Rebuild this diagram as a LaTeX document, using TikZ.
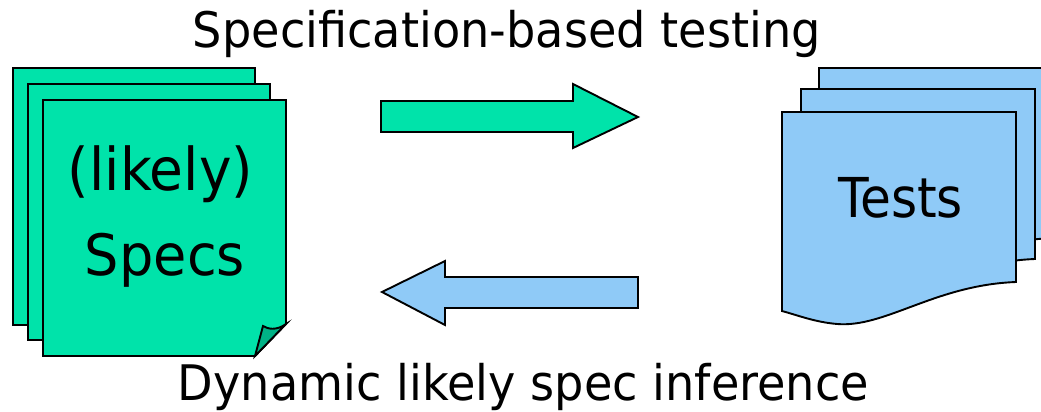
\documentclass[tikz,border=0pt]{standalone}
\usepackage{fontspec}
\usepackage{graphicx}
\setmainfont{DejaVu Sans}
\definecolor{specgreen}{RGB}{0,227,170}
\definecolor{foldgreen}{RGB}{0,178,134}
\definecolor{testblue}{RGB}{143,202,247}
% set a text at a given font size, stretched to a given width
\newcommand\fitlabel[3]{\resizebox{#1}{\height}{\fontsize{#2}{#2}\selectfont #3}}
\tikzset{
  outline/.style={draw=black, line width=1.9pt, line join=miter},
  specpage/.style={outline, fill=specgreen},
  testpage/.style={outline, fill=testblue},
  caption/.style={inner sep=0pt, anchor=base, text=black},
}
\begin{document}
\begin{tikzpicture}[x=1pt,y=-1pt]
\useasboundingbox (0,0) rectangle (1041,412);
\begin{scope}
\clip (0,0) rectangle (1041,412);

% stack of specification sheets
\draw[specpage] (13,68) rectangle (255,325);
\draw[specpage] (28,84) rectangle (270,340);
\draw[specpage] (43,100) -- (286,100) -- (286,324) -- (255,356) -- (43,356) -- cycle;
% curled corner
\draw[outline, fill=foldgreen] (286,324) .. controls (276,331) and (268,329) .. (263,326)
  -- (255,356) -- cycle;

% stack of test sheets (document shape with wavy bottom)
\foreach \dx/\dy in {37/-44, 19/-23, 0/0} {
  \begin{scope}[shift={(\dx,\dy)}]
    \draw[testpage] (782,112) -- (1016,112) -- (1016,282)
      .. controls (935,285) and (885,328) .. (837,324)
      .. controls (815,322) and (800,316) .. (782,311) -- cycle;
  \end{scope}
}

% block arrows
\draw[outline, fill=specgreen] (381,101) -- (573,101) -- (573,84) -- (638,117)
  -- (573,148) -- (573,132) -- (381,132) -- cycle;
\draw[outline, fill=testblue] (638,277) -- (445,277) -- (445,261) -- (382,292)
  -- (445,325) -- (445,308) -- (638,308) -- cycle;
\end{scope}

% labels
\node[caption] (top) at (507,48) {\fitlabel{628pt}{49pt}{Specification-based testing}};
\node[caption] (bottom) at (523.5,400) {\fitlabel{691pt}{49pt}{Dynamic likely spec inference}};
\node[caption] (likely) at (160.5,190) {\fitlabel{185pt}{59pt}{(likely)}};
\node[caption] (specs) at (165,275) {\fitlabel{160pt}{57pt}{Specs}};
\node[caption] (tests) at (900.5,217) {\fitlabel{125pt}{55pt}{Tests}};
\end{tikzpicture}
\end{document}
